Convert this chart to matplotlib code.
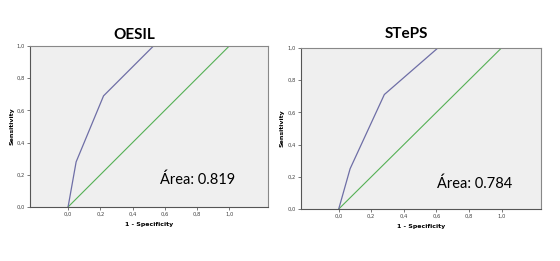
import matplotlib.pyplot as plt

# ROC curves
oesil_fpr = [0.0, 0.05, 0.22, 0.53, 1.0]
oesil_tpr = [0.0, 0.28, 0.69, 1.0, 1.0]
steps_fpr = [0.0, 0.07, 0.28, 0.61, 1.0]
steps_tpr = [0.0, 0.25, 0.71, 1.0, 1.0]
ref_line = [0.0, 1.0]

titles = ['OESIL', 'STePS']
areas = ['Área: 0.819', 'Área: 0.784']
ticks = [0.0, 0.2, 0.4, 0.6, 0.8, 1.0]
tick_labels = ['0,0', '0,2', '0,4', '0,6', '0,8', '1,0']

fig = plt.figure(figsize=(5.6, 2.61), dpi=100)
boxes = [[0.0536, 0.207, 0.425, 0.617], [0.537, 0.199, 0.429, 0.618]]
xlims = [(-0.236, 1.24), (-0.233, 1.241)]
curves = [(oesil_fpr, oesil_tpr), (steps_fpr, steps_tpr)]
area_pos = [(0.546, 0.143), (0.566, 0.13)]
title_pos = [(0.437, 1.043), (0.44, 1.06)]

for i in range(2):
    ax = fig.add_axes(boxes[i])
    ax.set_facecolor('#efefef')
    fpr, tpr = curves[i]
    ax.plot(ref_line, ref_line, color='#55b055', lw=0.8)
    ax.plot(fpr, tpr, color='#6e6ea6', lw=0.9)
    ax.set_xlim(*xlims[i])
    ax.set_ylim(0, 1)
    ax.set_xticks(ticks)
    ax.set_xticklabels(tick_labels)
    ax.set_yticks(ticks)
    ax.set_yticklabels(tick_labels)
    ax.tick_params(labelsize=3.8, length=2, width=0.5, colors='#444444', pad=1.5)
    for s in ax.spines.values():
        s.set_color('#888888')
        s.set_linewidth(0.8)
    ax.spines['left'].set_color('#555555')
    ax.spines['bottom'].set_color('#555555')
    ax.set_xlabel('1 - Specificity', fontsize=4.5, fontweight='bold', labelpad=4)
    ax.set_ylabel('Sensitivity', fontsize=4.5, fontweight='bold', labelpad=2)
    ax.text(title_pos[i][0], title_pos[i][1], titles[i], transform=ax.transAxes,
            fontsize=11, fontweight='bold', family='Lato', ha='center', va='baseline')
    ax.text(area_pos[i][0], area_pos[i][1], areas[i], transform=ax.transAxes,
            fontsize=10.5, family='Lato', va='baseline')

fig.savefig('out.png', dpi=100)
